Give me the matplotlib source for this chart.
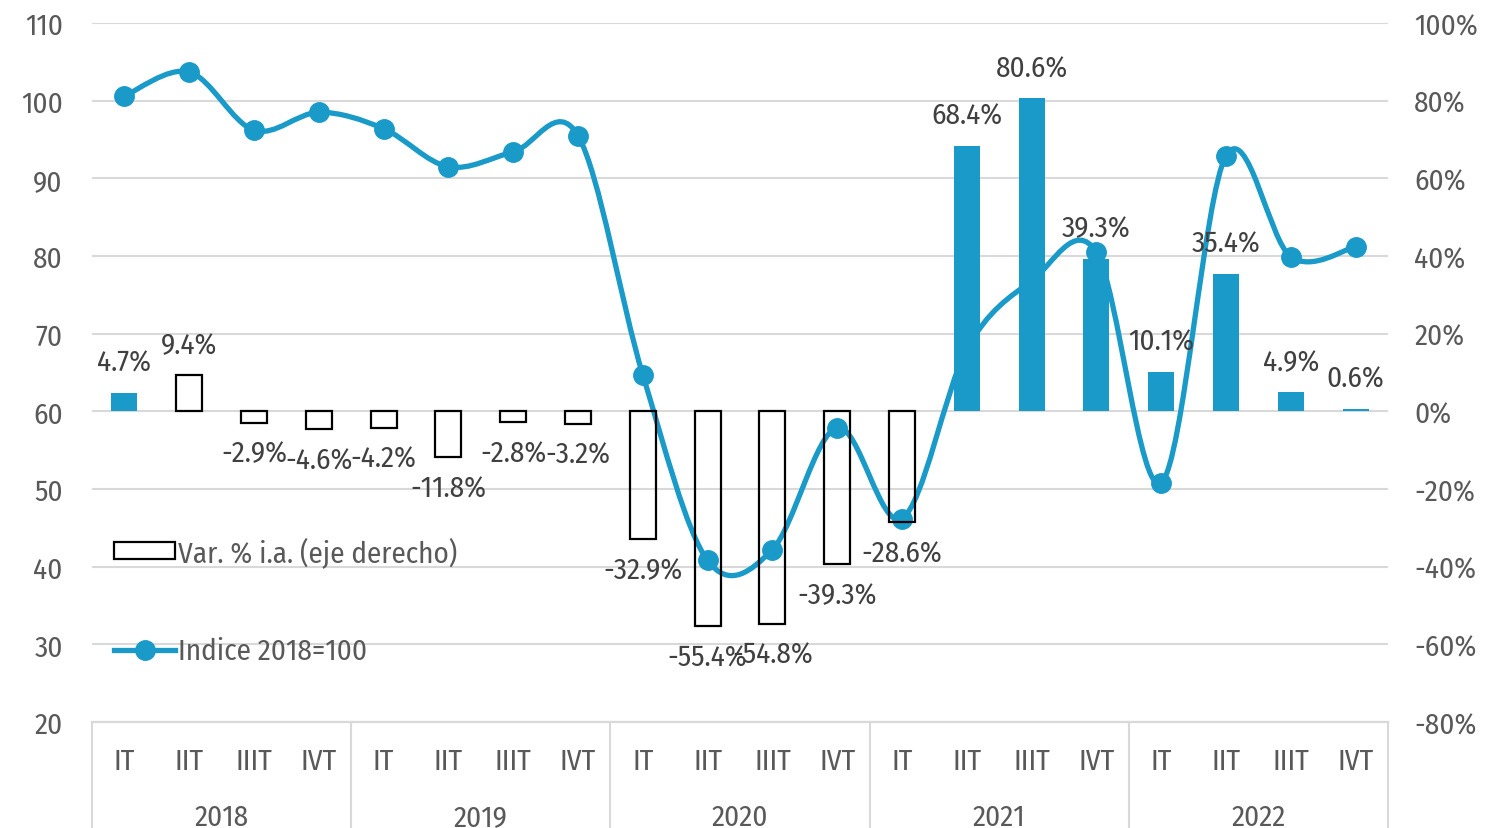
import numpy as np
import matplotlib
matplotlib.use("Agg")
import matplotlib.pyplot as plt
from matplotlib.path import Path
from matplotlib.patches import PathPatch, Rectangle
from matplotlib.lines import Line2D
import matplotlib.transforms as mtransforms

plt.rcParams['font.family'] = ['Fira Sans Condensed', 'Roboto Condensed', 'DejaVu Sans']

# Data
years = ['2018', '2019', '2020', '2021', '2022']
quarters = ['IT', 'IIT', 'IIIT', 'IVT']
var_pct = [4.7, 9.4, -2.9, -4.6, -4.2, -11.8, -2.8, -3.2,
           -32.9, -55.4, -54.8, -39.3, -28.6, 68.4, 80.6, 39.3,
           10.1, 35.4, 4.9, 0.6]
indice = [100.6, 103.7, 96.2, 98.5, 96.4, 91.5, 93.4, 95.5,
          64.7, 40.8, 42.2, 57.9, 46.2, 68.0, 76.8, 80.5,
          50.8, 92.9, 79.9, 81.2]
# bars drawn filled (True) or outlined only (False)
filled = [True, False, False, False, False, False, False, False,
          False, False, False, False, False, True, True, True,
          True, True, True, True]

blue = '#1A9AC9'
txt = '#404040'
axc = '#595959'
grid = '#D9D9D9'
fs = 21

x = np.arange(len(var_pct))

fig = plt.figure(figsize=(15.01, 8.29), dpi=100)
ax = fig.add_axes([0.0613, 0.1279, 0.8634, 0.8431])
ax2 = ax.twinx()

# smoothed line (Excel-style bezier through the points)
pts = np.column_stack([x, indice]).astype(float)
verts = [pts[0]]
codes = [Path.MOVETO]
n = len(pts)
for i in range(n - 1):
    p0 = pts[i - 1] if i > 0 else pts[i]
    p1 = pts[i]
    p2 = pts[i + 1]
    p3 = pts[i + 2] if i + 2 < n else pts[i + 1]
    c1 = p1 + (p2 - p0) / 6.0
    c2 = p2 - (p3 - p1) / 6.0
    verts += [c1, c2, p2]
    codes += [Path.CURVE4] * 3
ax.add_patch(PathPatch(Path(verts, codes), facecolor='none', edgecolor=blue,
                       lw=3.8, capstyle='round', joinstyle='round', zorder=3))
ax.plot(x, indice, ls='none', marker='o', ms=14, color=blue, zorder=4)

ax.set_ylim(20, 110)
ax.set_yticks(np.arange(20, 111, 10))
ax.set_xlim(-0.5, len(x) - 0.5)
ax.grid(axis='y', color=grid, lw=1.5)
ax.set_axisbelow(True)

# bars on right axis
for xi, v, f in zip(x, var_pct, filled):
    if f:
        ax2.bar(xi, v, width=0.4, color=blue, zorder=3)
    else:
        ax2.bar(xi, v, width=0.4, fill=False, edgecolor='black', lw=1.6, zorder=3)
    off = 22 if v >= 0 else -22
    ax2.annotate(f'{v:.1f}%', (xi, v), xytext=(0, off), textcoords='offset points',
                 ha='center', va='center', fontsize=fs, color=txt)

ax2.set_ylim(-80, 100)
ax2.set_yticks(np.arange(-80, 101, 20))
ax2.set_yticklabels([f'{t}%' for t in range(-80, 101, 20)])
ax2.set_xlim(-0.5, len(x) - 0.5)

for a in (ax, ax2):
    for s in ['top', 'left', 'right']:
        a.spines[s].set_visible(False)
    a.spines['bottom'].set_color(grid)
    a.spines['bottom'].set_linewidth(1.5)
    a.tick_params(axis='y', length=0, labelsize=fs, labelcolor=axc)
ax.tick_params(axis='y', pad=21)
ax2.tick_params(axis='y', pad=19)
ax.set_xticks([])
ax2.set_xticks([])

# category axis: quarters and years
trans = mtransforms.blended_transform_factory(ax.transData, ax.transAxes)
for i in x:
    ax.text(i, -0.056, quarters[i % 4], transform=trans, ha='center', va='center',
            fontsize=fs, color=axc, clip_on=False)
for k, yr in enumerate(years):
    ax.text(4 * k + 1.5, -0.136, yr, transform=trans, ha='center', va='center',
            fontsize=fs, color=axc, clip_on=False)
for b in np.arange(-0.5, len(x), 4):
    ax.plot([b, b], [0, -0.2], transform=trans, color=grid, lw=1.5, clip_on=False)

# legend
h1 = Rectangle((0, 0), 1, 1, facecolor='white', edgecolor='black', lw=1.6)
h2 = Line2D([], [], color=blue, lw=3.8, marker='o', ms=14)
leg = ax.legend([h1, h2], ['Var. % i.a. (eje derecho)', 'Indice 2018=100'],
                loc='upper left', bbox_to_anchor=(0.008, 0.283), frameon=False,
                fontsize=fs, labelspacing=2.4, handlelength=2.1, handleheight=0.5,
                handletextpad=0.1, borderaxespad=0)
for t in leg.get_texts():
    t.set_color(axc)

fig.savefig('out.png', dpi=100)
